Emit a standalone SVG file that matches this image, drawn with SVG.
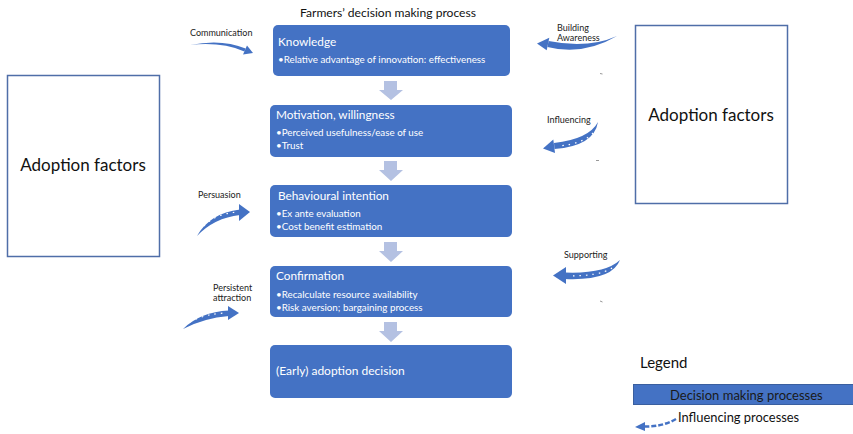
<svg xmlns="http://www.w3.org/2000/svg" width="853" height="434" viewBox="0 0 853 434">
<style>
text{font-family:Lato,"Liberation Sans",sans-serif}
.box{fill:#4472C4}
.t{fill:#fff;font-size:11.8px}
.b{fill:#fff;font-size:9.8px}
.lbl{fill:#222;font-size:9px}
.af{fill:#fff;stroke:#4F6EA8;stroke-width:1.5}
.aft{fill:#111;font-size:17px;text-anchor:middle}
.down{fill:#B4C1E2}
.ca{fill:#4472C4}
.dots{fill:none;stroke:#fff;stroke-width:1.2;stroke-dasharray:1.5 5}
.mark{stroke:#999;stroke-width:1}
</style>

<text x="300" y="17" style="font-size:12.1px;fill:#111">Farmers’ decision making process</text>

<g id="adoption-left">
<rect class="af" x="7.5" y="75.5" width="152" height="181"/>
<text class="aft" x="83" y="171">Adoption factors</text>
</g>
<g id="adoption-right">
<rect class="af" x="635.5" y="25.5" width="152" height="178"/>
<text class="aft" x="711" y="121">Adoption factors</text>
</g>

<g id="knowledge">
<rect class="box" x="273" y="25" width="237" height="51" rx="5"/>
<text class="t" x="278" y="46">Knowledge</text>
<text class="b" x="278" y="63">•Relative advantage of innovation: effectiveness</text>
</g>
<g id="motivation">
<rect class="box" x="270" y="105" width="242" height="52" rx="5"/>
<text class="t" x="276" y="119">Motivation, willingness</text>
<text class="b" x="276" y="136">•Perceived usefulness/ease of use</text>
<text class="b" x="276" y="149">•Trust</text>
</g>
<g id="behavioural">
<rect class="box" x="270" y="185" width="242" height="52" rx="5"/>
<text class="t" x="278" y="200">Behavioural intention</text>
<text class="b" x="276" y="217">•Ex ante evaluation</text>
<text class="b" x="276" y="230">•Cost benefit estimation</text>
</g>
<g id="confirmation">
<rect class="box" x="270" y="266" width="242" height="51" rx="5"/>
<text class="t" x="276" y="280">Confirmation</text>
<text class="b" x="276" y="298">•Recalculate resource availability</text>
<text class="b" x="276" y="311">•Risk aversion; bargaining process</text>
</g>
<g id="adoption-decision">
<rect class="box" x="270" y="345" width="242" height="53" rx="5"/>
<text class="t" x="276" y="375" style="font-size:12px">(Early) adoption decision</text>
</g>

<g id="connectors">
<path class="down" d="M384,81 H397 V90 H403 L391,100 L379,90 H384 Z"/>
<path class="down" d="M384,161 H397 V170 H403 L391,181 L379,170 H384 Z"/>
<path class="down" d="M384,242 H397 V251 H403 L391,262 L379,251 H384 Z"/>
<path class="down" d="M384,322 H397 V331 H403 L391,342 L379,331 H384 Z"/>

<!-- Communication -->
<path class="ca" d="M190,45 Q222,38.5 245.6,48.6 L244.4,51.4 Q221,41.5 190,45 Z"/>
<path class="ca" d="M247,45.4 L253,53 L243,54.6 Z"/>
<!-- Building Awareness -->
<path class="ca" d="M617,36 Q588,49 548.6,41.1 L547.4,46.9 Q583,56 617,36 Z"/>
<path class="ca" d="M549.3,37.8 L537,43.5 L546.7,50.2 Z"/>
<!-- Influencing -->
<path class="ca" d="M598,122 Q589,139 554,143 L554.5,149 Q594,146 598,122 Z"/>
<path class="ca" d="M553.3,139.5 L543,148.5 L555,153 Z"/>
<path class="dots" d="M593,133 Q583,144 558,146"/>
<!-- Supporting -->
<path class="ca" d="M620,260 Q605,274 565,272.5 L565,279 Q612,281 620,260 Z"/>
<path class="ca" d="M566,267 L553,275.5 L566,284 Z"/>
<path class="dots" d="M612,268 Q600,276 568,276"/>
<!-- Persuasion -->
<path class="ca" d="M197,236 Q210,213 240,209.5 L240,215 Q214,218 197,236 Z"/>
<path class="ca" d="M239,204 L250,212 L239,221 Z"/>
<path class="dots" d="M204,226 Q215,214 237,212"/>
<!-- Persistent attraction -->
<path class="ca" d="M183,329 Q200,312 229,310.5 L229,316 Q204,318 183,329 Z"/>
<path class="ca" d="M228,306 L239,313 L228,320 Z"/>
<path class="dots" d="M190,322 Q204,314 226,313"/>

<text class="lbl" x="190" y="36">Communication</text>
<text class="lbl" x="557" y="31">Building</text>
<text class="lbl" x="557" y="41">Awareness</text>
<text class="lbl" x="547" y="123">Influencing</text>
<text class="lbl" x="564" y="258">Supporting</text>
<text class="lbl" x="198" y="198">Persuasion</text>
<text class="lbl" x="213" y="291">Persistent</text>
<text class="lbl" x="213" y="301">attraction</text>

<line class="mark" x1="600" y1="73.5" x2="602.5" y2="74"/>
<line class="mark" x1="596" y1="160.5" x2="599" y2="160.5"/>
<line class="mark" x1="600" y1="301" x2="602.5" y2="302"/>
</g>

<g id="legend">
<text x="640" y="368" style="font-size:15px;fill:#111">Legend</text>
<rect x="633.5" y="384.5" width="222" height="20" fill="#4472C4" stroke="#3A5F9F" stroke-width="1"/>
<text x="670" y="399.5" style="font-size:13px;fill:#1a1a1a">Decision making processes</text>
<text x="678" y="422" style="font-size:12.9px;fill:#111">Influencing processes</text>
<path d="M676,419 Q662,427 644,426.5" fill="none" stroke="#4472C4" stroke-width="2.5" stroke-dasharray="5 2"/>
<path class="ca" d="M645,422 L635,427 L645,431 Z"/>
</g>
</svg>
